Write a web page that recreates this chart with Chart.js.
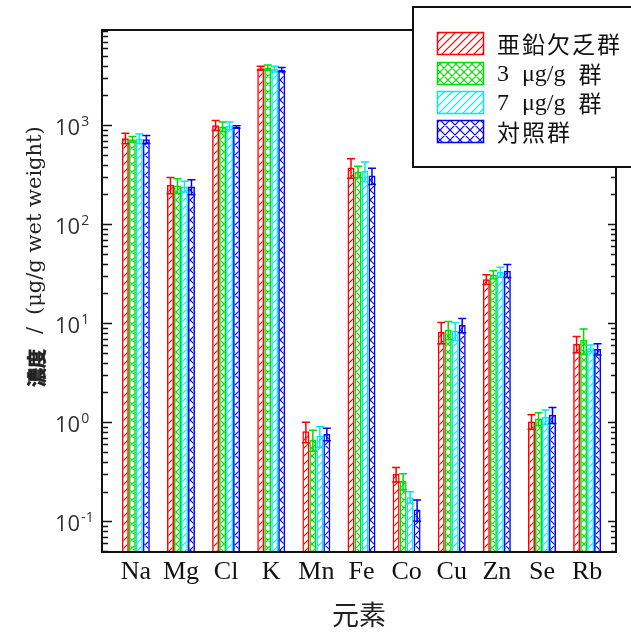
<!DOCTYPE html>
<html>
<head>
<meta charset="utf-8">
<script src="https://cdn.jsdelivr.net/npm/chart.js@4.4.1/dist/chart.umd.min.js"></script>
<style>
  html, body { margin: 0; padding: 0; background: #fff; }
  #wrap { width: 631px; height: 632px; position: relative; }
</style>
</head>
<body>
<div id="wrap"><canvas id="c" width="631" height="632"></canvas></div>
<script>
// Elements measured (x axis)
const categories = ['Na', 'Mg', 'Cl', 'K', 'Mn', 'Fe', 'Co', 'Cu', 'Zn', 'Se', 'Rb'];

// Group names shown in the legend
const seriesLabels = ['亜鉛欠乏群', '3 μg/g 群', '7 μg/g 群', '対照群'];

// Mean concentrations (μg/g wet weight) and their errors, per group
const zincDeficient    = [740, 250, 1000, 3770, 0.81, 375, 0.30, 8.2, 27.8, 1.02, 6.2];
const zincDeficientErr = [90, 47, 115, 180, 0.19, 84, 0.05, 2.0, 3.1, 0.17, 1.15];

const group3           = [720, 246, 970, 3820, 0.67, 340, 0.255, 8.6, 31, 1.09, 6.8];
const group3Err        = [48, 42, 110, 230, 0.16, 45, 0.047, 1.8, 2.9, 0.16, 1.95];

const group7           = [733, 241, 990, 3700, 0.73, 347, 0.175, 8.4, 33, 1.14, 5.6];
const group7Err        = [83, 30, 90, 250, 0.17, 78, 0.024, 1.7, 3.8, 0.19, 0.45];

const control          = [720, 240, 960, 3640, 0.76, 310, 0.132, 9.6, 34, 1.19, 5.5];
const controlErr       = [66, 41, 30, 180, 0.11, 58, 0.032, 1.6, 5.1, 0.22, 0.72];

// Decade exponents labelled on the y axis
const yTickExponents = [-1, 0, 1, 2, 3];

const seriesValues = [zincDeficient, group3, group7, control];
const seriesErrors = [zincDeficientErr, group3Err, group7Err, controlErr];
const seriesColors = ['#ff0000', '#00dd00', '#00e8f0', '#0000ff'];
const seriesHatch  = [['diag', 8], ['cross', 8], ['diag', 8], ['cross', 10]];

// Build a hatch pattern tile: '/' lines or a crossed 'x' lattice
function makePattern(color, kind, size) {
  const t = document.createElement('canvas');
  t.width = size; t.height = size;
  const g = t.getContext('2d');
  g.strokeStyle = color;
  g.lineWidth = 1.2;
  g.beginPath();
  g.moveTo(-1, size + 1); g.lineTo(size + 1, -1);
  g.moveTo(-1, 1); g.lineTo(1, -1);
  g.moveTo(size - 1, size + 1); g.lineTo(size + 1, size - 1);
  if (kind === 'cross') {
    g.moveTo(-1, -1); g.lineTo(size + 1, size + 1);
    g.moveTo(size - 1, -1); g.lineTo(size + 1, 1);
    g.moveTo(-1, size - 1); g.lineTo(1, size + 1);
  }
  g.stroke();
  return document.getElementById('c').getContext('2d').createPattern(t, 'repeat');
}

const patterns = seriesColors.map((c, i) => makePattern(c, seriesHatch[i][0], seriesHatch[i][1]));

const datasets = seriesLabels.map((label, s) => ({
  label: label,
  data: categories.map((_, i) => ({ x: i + 1, y: seriesValues[s][i] })),
  errors: seriesErrors[s],
  backgroundColor: patterns[s],
  borderColor: seriesColors[s],
  borderWidth: 1.5,
  borderSkipped: 'start',
  categoryPercentage: 0.62,
  barPercentage: 1.0
}));

const CJK = '"Noto Sans CJK JP"';

// Error bars drawn at each bar's position from the y scale
const errorBars = {
  id: 'errorBars',
  afterDatasetsDraw(chart) {
    const ctx = chart.ctx;
    const y = chart.scales.y;
    ctx.save();
    ctx.beginPath();
    ctx.rect(chart.chartArea.left, chart.chartArea.top,
             chart.chartArea.right - chart.chartArea.left,
             chart.chartArea.bottom - chart.chartArea.top);
    ctx.clip();
    chart.data.datasets.forEach((ds, s) => {
      const meta = chart.getDatasetMeta(s);
      ctx.strokeStyle = ds.borderColor;
      ctx.lineWidth = 1.5;
      meta.data.forEach((bar, i) => {
        const v = ds.data[i].y, e = ds.errors[i];
        const yt = y.getPixelForValue(v + e);
        const yb = y.getPixelForValue(Math.max(v - e, y.min));
        const half = bar.width / 2 + 0.5;
        ctx.beginPath();
        ctx.moveTo(bar.x, yt); ctx.lineTo(bar.x, yb);
        ctx.moveTo(bar.x - half, yt); ctx.lineTo(bar.x + half, yt);
        ctx.moveTo(bar.x - half, yb); ctx.lineTo(bar.x + half, yb);
        ctx.stroke();
      });
    });
    ctx.restore();
  }
};

// Plot frame, inward log ticks, y labels, y title and legend box
const frameAndLabels = {
  id: 'frameAndLabels',
  afterDraw(chart) {
    const ctx = chart.ctx;
    const a = chart.chartArea;
    const y = chart.scales.y;
    ctx.save();

    // frame
    ctx.strokeStyle = '#111';
    ctx.lineWidth = 2;
    ctx.strokeRect(a.left, a.top, a.right - a.left, a.bottom - a.top);

    // inward ticks on left and right spines
    ctx.lineWidth = 1.5;
    ctx.beginPath();
    for (let e = -2; e <= 4; e++) {
      for (let m = 1; m <= 9; m++) {
        const v = m * Math.pow(10, e);
        if (v < y.min || v > y.max) continue;
        const py = Math.round(y.getPixelForValue(v)) + 0.5;
        const lenL = m === 1 ? 10 : 6;
        const lenR = m === 1 ? 8 : 5;
        ctx.moveTo(a.left, py); ctx.lineTo(a.left + lenL, py);
        ctx.moveTo(a.right, py); ctx.lineTo(a.right - lenR, py);
      }
    }
    ctx.stroke();

    // y tick labels 10^n
    ctx.fillStyle = '#333';
    ctx.textBaseline = 'alphabetic';
    ctx.textAlign = 'left';
    yTickExponents.forEach(n => {
      const py = y.getPixelForValue(Math.pow(10, n));
      ctx.font = '22px "Open Sans"';
      ctx.fillText('10', 55, py + 10);
      const w = ctx.measureText('10').width;
      ctx.font = '14px "Open Sans"';
      ctx.fillText(String(n), 55 + w + 1, py + 1);
    });

    // y axis title, rotated (rotated x runs upward: screen y = 250 - x)
    ctx.save();
    ctx.translate(36, 250);
    ctx.rotate(-Math.PI / 2);
    ctx.fillStyle = '#222';
    ctx.strokeStyle = '#222';
    ctx.lineWidth = 0.7;
    ctx.textBaseline = 'middle';
    ctx.textAlign = 'left';
    ctx.font = 'bold 19px ' + CJK;
    ctx.fillText('濃度', 250 - 387, 1);
    ctx.strokeText('濃度', 250 - 387, 1);
    ctx.font = '21px "DejaVu Serif"';
    ctx.fillText('/', 250 - 334, 0);
    ctx.fillText('(μg/g wet weight)', 250 - 315, 0);
    ctx.restore();

    // legend box
    ctx.fillStyle = '#fff';
    ctx.fillRect(413, 7, 240, 160);
    ctx.strokeStyle = '#111';
    ctx.lineWidth = 2;
    ctx.strokeRect(413, 7, 240, 160);

    const rowTop = [32, 62, 91, 120];
    seriesLabels.forEach((label, s) => {
      const ty = rowTop[s];
      ctx.fillStyle = patterns[s];
      ctx.fillRect(437, ty, 47, 23);
      ctx.strokeStyle = seriesColors[s];
      ctx.lineWidth = 1.5;
      ctx.strokeRect(437.5, ty + 0.5, 46, 22);

      // label: CJK glyphs on a fixed pitch, latin runs in serif
      ctx.fillStyle = '#111';
      ctx.textBaseline = 'middle';
      let x = 497;
      const cy = ty + 12;
      const parts = label.split(' ');
      parts.forEach((part, k) => {
        if (/[\u3000-\u9fff]/.test(part)) {
          ctx.font = '23px ' + CJK;
          for (const ch of part) { ctx.fillText(ch, x, cy); x += 25; }
        } else {
          ctx.font = '24px "Liberation Serif"';
          ctx.fillText(part, x, cy + 1);
          x += ctx.measureText(part).width;
        }
        if (k < parts.length - 1) x += 13;
      });
    });

    ctx.restore();
  }
};

new Chart(document.getElementById('c'), {
  type: 'bar',
  data: { datasets },
  plugins: [errorBars, frameAndLabels],
  options: {
    responsive: false,
    animation: false,
    layout: { padding: { left: 0, top: 30, right: 15, bottom: 0 } },
    plugins: { legend: { display: false }, tooltip: { enabled: false } },
    scales: {
      x: {
        type: 'linear',
        offset: false,
        min: 0.25,
        max: 11.64,
        grid: { display: false, drawTicks: false, offset: false },
        border: { display: false },
        afterBuildTicks(axis) {
          axis.ticks = categories.map((_, i) => ({ value: i + 1 }));
        },
        afterFit(scale) { scale.height = 80; },
        ticks: {
          autoSkip: false,
          maxRotation: 0,
          padding: 5,
          color: '#111',
          font: { family: 'Liberation Serif', size: 26 },
          callback: (v) => categories[v - 1] || ''
        },
        title: {
          display: true,
          text: '元素',
          color: '#222',
          font: { family: 'Noto Sans CJK JP', size: 27 },
          padding: { top: 0, bottom: 1 }
        }
      },
      y: {
        type: 'logarithmic',
        min: 0.049,
        max: 9150,
        grid: { display: false, drawTicks: false },
        border: { display: false },
        ticks: { display: false },
        afterFit(scale) { scale.width = 102; }
      }
    }
  }
});
</script>
</body>
</html>
